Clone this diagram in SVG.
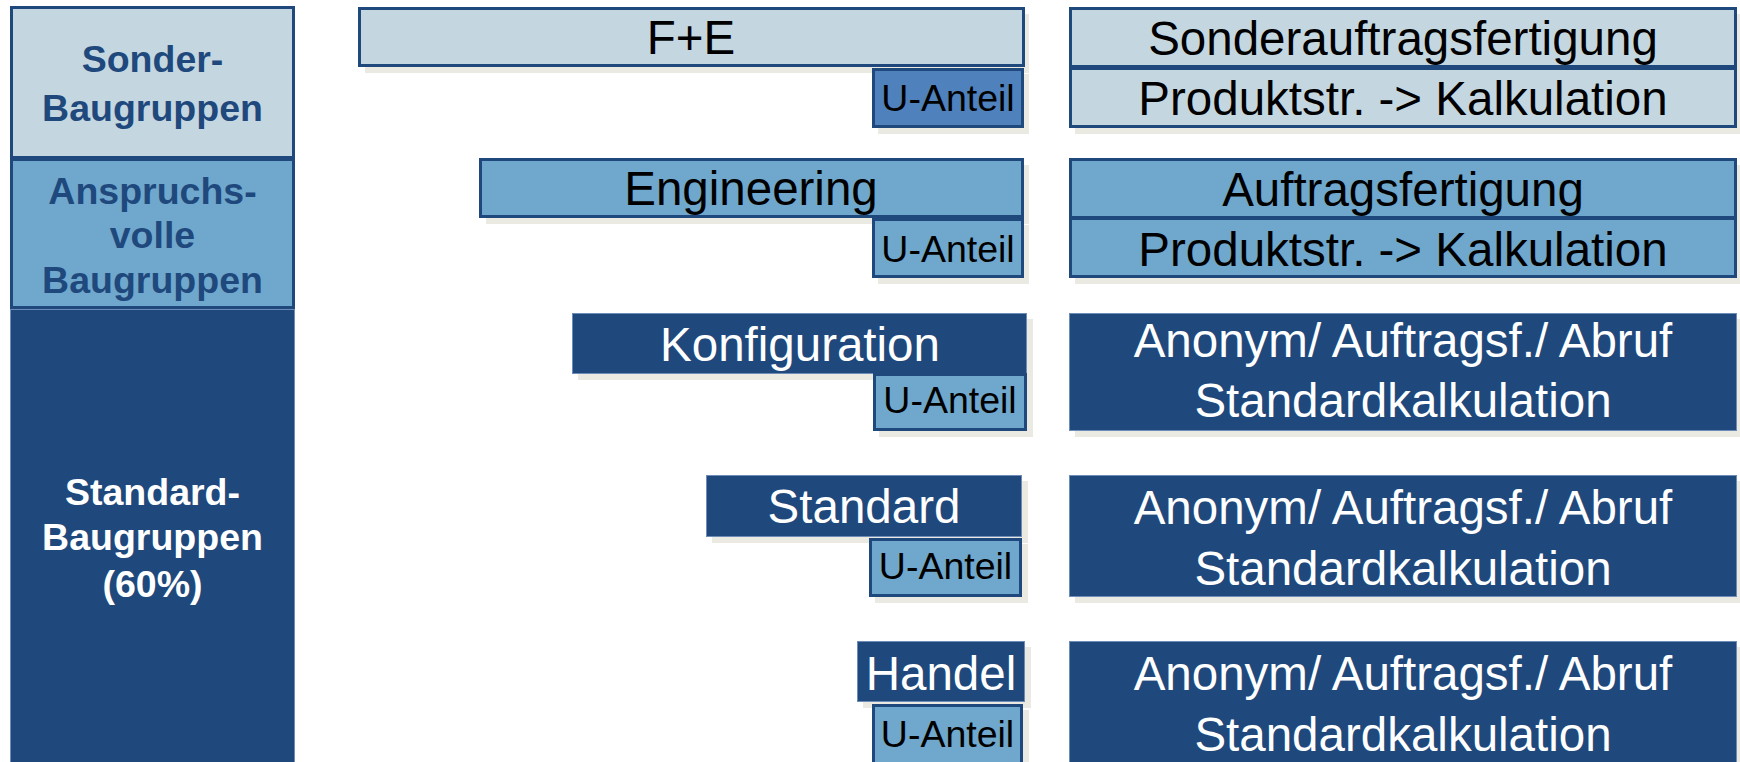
<svg xmlns="http://www.w3.org/2000/svg" width="1740" height="762" viewBox="0 0 1740 762">
  <style>
    .bg { fill: #ffffff; }
    .shadow { fill: #ebeae2; }
    .light { fill: #c4d7e0; stroke: #1f497d; stroke-width: 3; }
    .mid { fill: #6fa8cc; stroke: #1f497d; stroke-width: 3; }
    .accent { fill: #4f81bd; stroke: #1f497d; stroke-width: 3; }
    .dark { fill: #1f497d; stroke: #6d8cb8; stroke-width: 1; }
    .big { font-family: "Liberation Sans", Arial, sans-serif; font-size: 47.5px; text-anchor: middle; }
    .small { font-family: "Liberation Sans", Arial, sans-serif; font-size: 37.5px; text-anchor: middle; fill: #000000; }
    .label { font-family: "Liberation Sans", Arial, sans-serif; font-size: 37.5px; font-weight: bold; text-anchor: middle; }
    .ink { fill: #000000; }
    .white { fill: #ffffff; }
    .navy { fill: #1f497d; }
  </style>
  <rect class="bg" x="0" y="0" width="1740" height="762"/>

  <!-- category column -->
  <g id="cat-sonder">
    <rect class="light" x="11.5" y="7.5" width="282" height="150"/>
    <text class="label navy" x="152.5" y="72">Sonder-</text>
    <text class="label navy" x="152.5" y="121">Baugruppen</text>
  </g>
  <g id="cat-anspruchsvoll">
    <rect class="mid" x="11.5" y="159.5" width="282" height="148"/>
    <text class="label navy" x="152.5" y="204">Anspruchs-</text>
    <text class="label navy" x="152.5" y="248">volle</text>
    <text class="label navy" x="152.5" y="293">Baugruppen</text>
  </g>
  <g id="cat-standard">
    <rect class="dark" x="10.5" y="309.5" width="284" height="470"/>
    <text class="label white" x="152.5" y="505">Standard-</text>
    <text class="label white" x="152.5" y="550">Baugruppen</text>
    <text class="label white" x="152.5" y="597">(60%)</text>
  </g>

  <!-- process bars with U-Anteil tabs -->
  <g id="bar-fe">
    <rect class="shadow" x="365" y="14" width="664" height="59"/>
    <rect class="light" x="359.5" y="8.5" width="664" height="57"/>
    <text class="big ink" x="691" y="54">F+E</text>
  </g>
  <g id="u-fe">
    <rect class="shadow" x="878" y="74" width="151" height="60"/>
    <rect class="accent" x="873.5" y="69.5" width="149" height="57"/>
    <text class="small" x="948" y="111">U-Anteil</text>
  </g>

  <g id="bar-engineering">
    <rect class="shadow" x="486" y="165" width="543" height="59"/>
    <rect class="mid" x="480.5" y="159.5" width="542" height="57"/>
    <text class="big ink" x="751" y="205">Engineering</text>
  </g>
  <g id="u-engineering">
    <rect class="shadow" x="878" y="225" width="151" height="59"/>
    <rect class="mid" x="873.5" y="219.5" width="149" height="57"/>
    <text class="small" x="948" y="262">U-Anteil</text>
  </g>

  <g id="bar-konfiguration">
    <rect class="shadow" x="578" y="319" width="455" height="61"/>
    <rect class="dark" x="572.5" y="313.5" width="454" height="60"/>
    <text class="big white" x="800" y="361">Konfiguration</text>
  </g>
  <g id="u-konfiguration">
    <rect class="shadow" x="879" y="379" width="154" height="58"/>
    <rect class="mid" x="874.5" y="374.5" width="151" height="55"/>
    <text class="small" x="950" y="413">U-Anteil</text>
  </g>

  <g id="bar-standard">
    <rect class="shadow" x="712" y="481" width="316" height="62"/>
    <rect class="dark" x="706.5" y="475.5" width="315" height="61"/>
    <text class="big white" x="864" y="523">Standard</text>
  </g>
  <g id="u-standard">
    <rect class="shadow" x="875" y="544" width="153" height="59"/>
    <rect class="mid" x="870.5" y="539.5" width="150" height="56"/>
    <text class="small" x="945.5" y="579">U-Anteil</text>
  </g>

  <g id="bar-handel">
    <rect class="shadow" x="863" y="647" width="168" height="61"/>
    <rect class="dark" x="857.5" y="641.5" width="167" height="60"/>
    <text class="big white" x="941" y="690">Handel</text>
  </g>
  <g id="u-handel">
    <rect class="shadow" x="878" y="710" width="151" height="60"/>
    <rect class="mid" x="873.5" y="705.5" width="148" height="60"/>
    <text class="small" x="947.5" y="747">U-Anteil</text>
  </g>

  <!-- order type / costing column -->
  <g id="mode-sonder">
    <rect class="shadow" x="1075" y="14" width="668" height="120"/>
    <rect class="light" x="1070.5" y="8.5" width="665" height="58"/>
    <rect class="light" x="1070.5" y="68.5" width="665" height="58"/>
    <text class="big ink" x="1403" y="55">Sonderauftragsfertigung</text>
    <text class="big ink" x="1403" y="115">Produktstr. -&gt; Kalkulation</text>
  </g>
  <g id="mode-auftrag">
    <rect class="shadow" x="1075" y="165" width="668" height="119"/>
    <rect class="mid" x="1070.5" y="159.5" width="665" height="58"/>
    <rect class="mid" x="1070.5" y="218.5" width="665" height="58"/>
    <text class="big ink" x="1403" y="206">Auftragsfertigung</text>
    <text class="big ink" x="1403" y="266">Produktstr. -&gt; Kalkulation</text>
  </g>
  <g id="mode-konfiguration">
    <rect class="shadow" x="1075" y="319" width="668" height="118"/>
    <rect class="dark" x="1069.5" y="313.5" width="667" height="117"/>
    <text class="big white" x="1403" y="357">Anonym/ Auftragsf./ Abruf</text>
    <text class="big white" x="1403" y="417">Standardkalkulation</text>
  </g>
  <g id="mode-standard">
    <rect class="shadow" x="1075" y="481" width="668" height="122"/>
    <rect class="dark" x="1069.5" y="475.5" width="667" height="121"/>
    <text class="big white" x="1403" y="524">Anonym/ Auftragsf./ Abruf</text>
    <text class="big white" x="1403" y="585">Standardkalkulation</text>
  </g>
  <g id="mode-handel">
    <rect class="shadow" x="1075" y="647" width="668" height="122"/>
    <rect class="dark" x="1069.5" y="641.5" width="667" height="130"/>
    <text class="big white" x="1403" y="690">Anonym/ Auftragsf./ Abruf</text>
    <text class="big white" x="1403" y="751">Standardkalkulation</text>
  </g>

  <!-- no connectors in this chart -->
  <g id="connectors"/>
</svg>
